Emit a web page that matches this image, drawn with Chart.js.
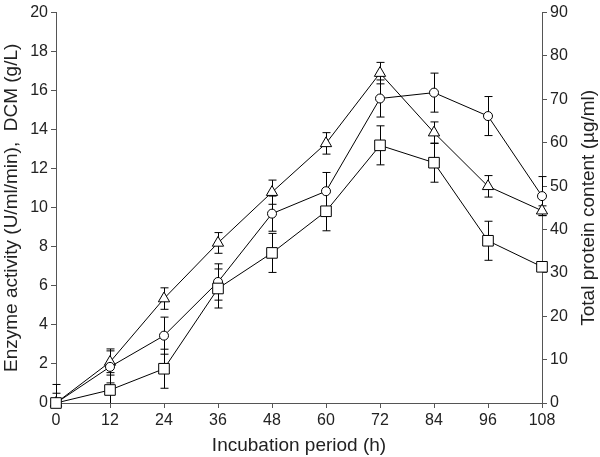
<!DOCTYPE html>
<html>
<head>
<meta charset="utf-8">
<script src="https://cdn.jsdelivr.net/npm/chart.js@4/dist/chart.umd.min.js"></script>
<style>
  html, body { margin: 0; padding: 0; background: #fff; }
  #wrap { width: 600px; height: 457px; }
</style>
</head>
<body>
<div id="wrap"><canvas id="chart"></canvas></div>
<script>
const hours = [0, 12, 24, 36, 48, 60, 72, 84, 96, 108];
const xTicks = [0, 12, 24, 36, 48, 60, 72, 84, 96, 108];

// left axis series
const enzymeValues = [0, 2.1, 5.35, 8.2, 10.8, 13.3, 16.9, 13.85, 11.1, 9.85];
const enzymeErrors = [0.5, 0.67, 0.55, 0.53, 0.62, 0.55, 0.55, 0.55, 0.55, 0.25];
const dcmValues = [0, 1.85, 3.45, 6.2, 9.7, 10.85, 15.6, 15.9, 14.7, 10.6];
const dcmErrors = [0.95, 0.82, 0.95, 0.93, 0.9, 0.96, 0.95, 1.0, 1.0, 1.0];

// right axis series
const proteinValues = [0, 3.0, 7.9, 26.4, 34.6, 44.2, 59.4, 55.4, 37.4, 31.4];
const proteinErrors = [0, 4.0, 4.5, 4.5, 4.5, 4.5, 4.5, 4.5, 4.5, 0.8];

const rightTitle = "Total protein content (µg/ml)";

const FONT = "'Liberation Sans', Arial, sans-serif";
const TEXT = "#222";
const AXIS = "#555";

const toPoints = vals => hours.map((h, i) => ({ x: h, y: vals[i] }));

const errorBars = {
  id: "errorBars",
  beforeDatasetsDraw(chart) {
    const ctx = chart.ctx;
    const xs = chart.scales.x;
    ctx.save();
    ctx.strokeStyle = "#000";
    ctx.lineWidth = 1;
    chart.data.datasets.forEach(ds => {
      const ys = chart.scales[ds.yAxisID];
      ds.errors.forEach((e, i) => {
        if (!e) return;
        const v = ds.data[i].y;
        const x = Math.round(xs.getPixelForValue(hours[i])) + 0.5;
        const top = ys.getPixelForValue(v + e);
        const bot = ys.getPixelForValue(Math.max(v - e, ys.min));
        ctx.beginPath();
        ctx.moveTo(x, top); ctx.lineTo(x, bot);
        ctx.moveTo(x - 4, top); ctx.lineTo(x + 4, top);
        if (v - e >= ys.min) { ctx.moveTo(x - 4, bot); ctx.lineTo(x + 4, bot); }
        ctx.stroke();
      });
    });
    ctx.restore();
  },
  // right-hand title reads bottom to top, like the left one
  afterDraw(chart) {
    const ctx = chart.ctx;
    const area = chart.chartArea;
    ctx.save();
    ctx.translate(589, (area.top + area.bottom) / 2);
    ctx.rotate(-Math.PI / 2);
    ctx.fillStyle = TEXT;
    ctx.font = "19px " + FONT;
    ctx.textAlign = "center";
    ctx.textBaseline = "middle";
    ctx.fillText(rightTitle, 0, 0);
    ctx.restore();
  }
};

const series = (label, vals, errs, style, radius, axis) => ({
  label,
  data: toPoints(vals),
  errors: errs,
  yAxisID: axis,
  borderColor: "#000",
  borderWidth: 1,
  pointStyle: style,
  pointRadius: radius,
  pointHoverRadius: radius,
  pointBackgroundColor: "#fff",
  pointBorderColor: "#000",
  pointBorderWidth: 1,
  tension: 0,
  clip: false
});

new Chart(document.getElementById("chart"), {
  type: "line",
  data: {
    datasets: [
      series(rightTitle, proteinValues, proteinErrors, "rect", 7.5, "y2"),
      series("DCM (g/L)", dcmValues, dcmErrors, "circle", 4.5, "y"),
      series("Enzyme activity (U/ml/min)", enzymeValues, enzymeErrors, "triangle", 6.5, "y")
    ]
  },
  options: {
    responsive: true,
    maintainAspectRatio: false,
    animation: false,
    layout: { padding: { top: 7, left: 0, right: 0, bottom: 0 } },
    plugins: { legend: { display: false }, tooltip: { enabled: false } },
    scales: {
      x: {
        type: "linear",
        min: 0, max: 108,
        afterBuildTicks: s => { s.ticks = xTicks.map(v => ({ value: v })); },
        afterFit: s => { s.height = 54; },
        border: { color: AXIS, width: 1 },
        grid: { drawOnChartArea: false, tickLength: 5, color: AXIS },
        ticks: { color: TEXT, font: { family: FONT, size: 16 }, padding: 3, maxRotation: 0 },
        title: { display: true, text: "Incubation period (h)", color: TEXT, font: { family: FONT, size: 19 }, padding: { top: 0, bottom: 0 } }
      },
      y: {
        position: "left",
        min: 0, max: 20,
        ticks: { stepSize: 2, color: TEXT, font: { family: FONT, size: 16 }, padding: 3 },
        afterFit: s => { s.width = 56; },
        border: { color: AXIS, width: 1 },
        grid: { drawOnChartArea: false, tickLength: 5, color: AXIS },
        title: { display: true, text: "Enzyme activity (U/ml/min),  DCM (g/L)", color: TEXT, font: { family: FONT, size: 19 }, padding: 0 }
      },
      y2: {
        position: "right",
        min: 0, max: 90,
        ticks: { stepSize: 10, color: TEXT, font: { family: FONT, size: 16 }, padding: 3 },
        afterFit: s => { s.width = 58; },
        border: { color: AXIS, width: 1 },
        grid: { drawOnChartArea: false, tickLength: 5, color: AXIS }
      }
    }
  },
  plugins: [errorBars]
});
</script>
</body>
</html>
